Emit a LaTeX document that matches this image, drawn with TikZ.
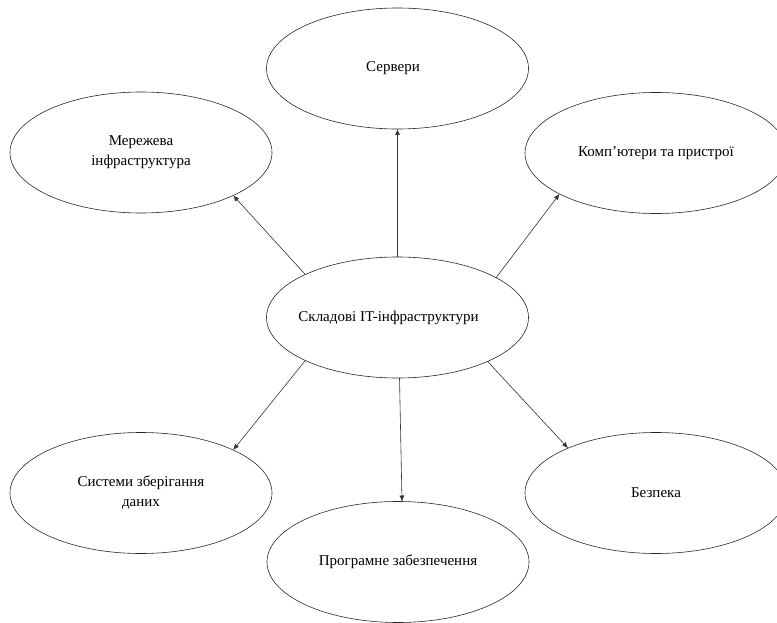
\documentclass[tikz,border=0pt]{standalone}
\usepackage{fontspec}
\setmainfont{Liberation Serif}
\usetikzlibrary{arrows.meta,shapes.geometric}
\begin{document}
\begin{tikzpicture}[x=1pt,y=-1pt,
  blob/.style={ellipse,draw=black!85,line width=0.6pt,minimum width=262pt,minimum height=121pt,inner sep=0pt,outer sep=0pt,align=center,font=\fontsize{15}{20}\selectfont},
  link/.style={draw=black!80,line width=0.6pt,-{Latex[length=6pt,width=5pt]}}]
\useasboundingbox (0,0) rectangle (777,623);
\clip (0,0) rectangle (777,623);
\node[blob] (c) at (397.5,317.5) {\makebox[0pt]{Складові IT-інфраструктури\hspace*{18pt}}};
\node[blob] (s) at (397.5,68.5) {\makebox[0pt]{Сервери\hspace*{9pt}}};
\node[blob] (n) at (141,152.5) {Мережева\\інфраструктура};
\node[blob] (k) at (656,153) {Комп’ютери та пристрої};
\node[blob] (st) at (141,493) {Системи зберігання\\даних};
\node[blob] (b) at (656,493) {Безпека};
\node[blob] (p) at (398,562) {Програмне забезпечення};
\draw[link] (c.north) -- (s.south);
\draw[link] (c.155.8) -- (n.-25.4);
\draw[link] (c.22.4) -- (k.203.5);
\draw[link] (c.205.2) -- (st.25.6);
\draw[link] ([xshift=2pt]c.south) -- ([xshift=4pt]p.north);
\draw[link] (c.-26.7) -- (b.153.2);
\end{tikzpicture}
\end{document}
